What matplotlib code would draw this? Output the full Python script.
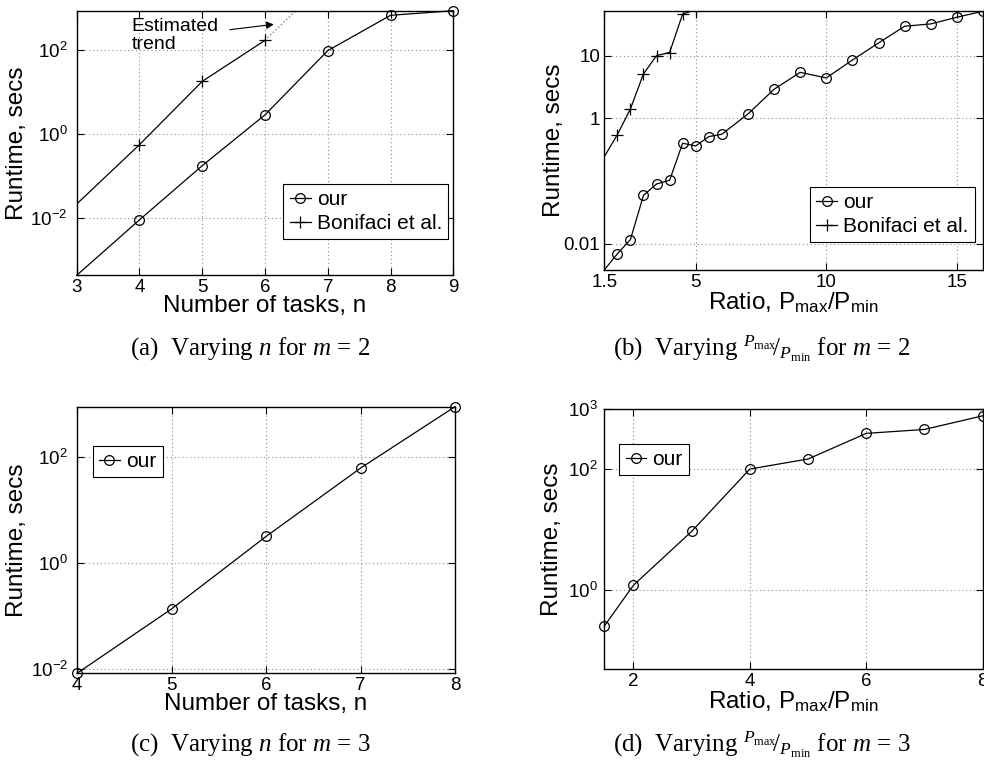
import matplotlib
matplotlib.use("Agg")
import matplotlib.pyplot as plt
from matplotlib.ticker import NullLocator

plt.rcParams['font.family'] = ['Liberation Sans', 'DejaVu Sans']
plt.rcParams['mathtext.fontset'] = 'custom'
plt.rcParams['mathtext.rm'] = 'Liberation Serif'
plt.rcParams['mathtext.it'] = 'Liberation Serif:italic'
plt.rcParams['mathtext.sf'] = 'Liberation Sans'
plt.rcParams['mathtext.bf'] = 'Liberation Serif:bold'

# =========================
# data
# =========================

# (a) m = 2, varying n
n_a = [3, 4, 5, 6, 7, 8, 9]
our_a = [4.2e-4, 0.0088, 0.172, 2.8, 95, 660, 850]
bon_n_a = [3, 4, 5, 6]
bon_a = [0.021, 0.545, 17.6, 167]
trend_n_a = [6, 7]
trend_a = [167, 4600]

# (b) m = 2, varying Pmax/Pmin
ratio_b = [1.5, 2, 2.5, 3, 3.5, 4, 4.5, 5, 5.5, 6, 7, 8, 9, 10, 11, 12, 13, 14, 15, 16]
our_b = [0.0038, 0.0069, 0.0116, 0.059, 0.0895, 0.1025, 0.40, 0.362, 0.51, 0.556,
         1.17, 2.9, 5.4, 4.4, 8.5, 15.9, 29.4, 32, 40.9, 51]
bon_ratio_b = [1.5, 2, 2.5, 3, 3.5, 4, 4.5, 5]
bon_b = [0.244, 0.548, 1.41, 5.1, 10, 11.2, 46, 54]

# (c) m = 3, varying n
n_c = [4, 5, 6, 7, 8]
our_c = [0.0084, 0.137, 3.19, 62, 893]

# (d) m = 3, varying Pmax/Pmin
ratio_d = [1.5, 2, 3, 4, 5, 6, 7, 8]
our_d = [0.25, 1.19, 9.3, 101, 148, 394, 458, 771]

log_ticks = [0.01, 1, 100]
log_labels = [r'$\mathdefault{10^{-2}}$', r'$\mathdefault{10^{0}}$', r'$\mathdefault{10^{2}}$']
ticks_b = [0.01, 1, 10]
labels_b = ['0.01', '1', '10']
xticks_b = [1.5, 5, 10, 15]
xlabels_b = ['1.5', '5', '10', '15']
ticks_d = [1, 100, 1000]
labels_d = [r'$\mathdefault{10^{0}}$', r'$\mathdefault{10^{2}}$', r'$\mathdefault{10^{3}}$']

label_n = 'Number of tasks, n'
label_ratio = r'Ratio, P$_{\mathsf{max}}$/P$_{\mathsf{min}}$'
label_y = 'Runtime, secs'
ratio_cap = r'${}^{P_{\rm max}}\!/_{P_{\rm min}}$'

W, H = 984, 769
LABEL_FS = 17.5
CAP_FS = 18
TICK_FS = 13.5


def make_axes(fig, left, right, top, bottom):
    return fig.add_axes([left / W, 1 - bottom / H, (right - left) / W, (bottom - top) / H])


def style(ax, ypad):
    ax.set_yscale('log')
    ax.yaxis.set_minor_locator(NullLocator())
    ax.xaxis.set_minor_locator(NullLocator())
    ax.grid(True, which='major', linestyle=(0, (1, 2.5)), color='0.55', lw=0.8)
    ax.tick_params(direction='in', top=True, right=True, length=5, width=0.8,
                   labelsize=TICK_FS, colors='k')
    ax.tick_params(axis='x', pad=3)
    ax.tick_params(axis='y', pad=ypad)
    for s in ax.spines.values():
        s.set_linewidth(1.0)
        s.set_color('k')


def add_legend(ax, loc, anchor):
    leg = ax.legend(loc=loc, bbox_to_anchor=anchor, fontsize=15, handlelength=1.0,
                    handletextpad=0.3, borderpad=0.3, labelspacing=0.25,
                    borderaxespad=0, fancybox=False, framealpha=1, numpoints=1)
    leg.get_frame().set_edgecolor('k')
    leg.get_frame().set_linewidth(0.8)


def caption(x, y, s):
    fig.text(x / W, 1 - y / H, s, family='Liberation Serif', fontsize=CAP_FS,
             ha='center', va='center')


fig = plt.figure(figsize=(W / 100, H / 100), dpi=100)

# =========================
# (a)
# =========================
ax = make_axes(fig, 76.7, 453.3, 10.7, 275.3)
style(ax, 6.5)
ax.plot(trend_n_a, trend_a, linestyle=':', color='0.5', lw=1)
ax.plot(n_a, our_a, color='k', lw=0.9, marker='o', markersize=7, mfc='none', mew=0.9,
        markevery=slice(1, None), clip_on=False, label='our')
ax.plot(bon_n_a, bon_a, color='k', lw=0.9, marker='+', markersize=8, mew=0.9,
        markevery=slice(1, None), label='Bonifaci et al.')
ax.set_xlim(3, 9)
ax.set_ylim(min(our_a), max(our_a))
ax.set_xticks(n_a)
ax.set_yticks(log_ticks)
ax.set_yticklabels(log_labels)
ax.set_xlabel(label_n, fontsize=LABEL_FS)
ax.set_ylabel(label_y, fontsize=LABEL_FS)
ax.xaxis.set_label_coords(0.5, -0.075)
ax.yaxis.set_label_coords(-0.129, 0.5)
ax.text(0.146, 0.972, 'Estimated\ntrend', transform=ax.transAxes, fontsize=14,
        ha='left', va='top', linespacing=1.1)
ax.annotate('', xy=(6.14, 402), xytext=(5.44, 300),
            arrowprops=dict(arrowstyle='-|>', color='k', lw=0.8, mutation_scale=11,
                            shrinkA=0, shrinkB=0))
add_legend(ax, 'lower right', (0.987, 0.136))
caption(250, 349, r'(a)  Varying $n$ for $m$ = 2')

# =========================
# (b)
# =========================
ax = make_axes(fig, 604.3, 983, 10.7, 270)
style(ax, 3)
ax.plot(ratio_b, our_b, color='k', lw=0.9, marker='o', markersize=7, mfc='none', mew=0.9,
        markevery=slice(1, None), label='our')
ax.plot(bon_ratio_b, bon_b, color='k', lw=0.9, marker='+', markersize=8, mew=0.9,
        markevery=slice(1, None), label='Bonifaci et al.')
ax.set_xlim(1.5, 16)
ax.set_ylim(0.0038, 52)
ax.set_xticks(xticks_b)
ax.set_xticklabels(xlabels_b)
ax.set_yticks(ticks_b)
ax.set_yticklabels(labels_b)
ax.set_xlabel(label_ratio, fontsize=LABEL_FS)
ax.set_ylabel(label_y, fontsize=LABEL_FS)
ax.xaxis.set_label_coords(0.5, -0.08)
ax.yaxis.set_label_coords(-0.104, 0.5)
add_legend(ax, 'lower right', (0.979, 0.107))
caption(762, 349, '(b)  Varying ' + ratio_cap + r' for $m$ = 2')

# =========================
# (c)
# =========================
ax = make_axes(fig, 77, 455, 406.7, 673.3)
style(ax, 6.5)
ax.plot(n_c, our_c, color='k', lw=0.9, marker='o', markersize=7, mfc='none', mew=0.9,
        clip_on=False, label='our')
ax.set_xlim(4, 8)
ax.set_ylim(min(our_c), max(our_c))
ax.set_xticks(n_c)
ax.set_yticks(log_ticks)
ax.set_yticklabels(log_labels)
ax.set_xlabel(label_n, fontsize=LABEL_FS)
ax.set_ylabel(label_y, fontsize=LABEL_FS)
ax.xaxis.set_label_coords(0.5, -0.075)
ax.yaxis.set_label_coords(-0.129, 0.5)
add_legend(ax, 'upper left', (0.0415, 0.8526))
caption(250, 745, r'(c)  Varying $n$ for $m$ = 3')

# =========================
# (d)
# =========================
ax = make_axes(fig, 604.3, 982.7, 409, 669.3)
style(ax, 5)
ax.plot(ratio_d, our_d, color='k', lw=0.9, marker='o', markersize=7, mfc='none', mew=0.9,
        clip_on=False, label='our')
ax.set_xlim(1.5, 8)
ax.set_ylim(0.048, 1000)
ax.set_xticks([2, 4, 6, 8])
ax.set_yticks(ticks_d)
ax.set_yticklabels(labels_d)
ax.set_xlabel(label_ratio, fontsize=LABEL_FS)
ax.set_ylabel(label_y, fontsize=LABEL_FS)
ax.xaxis.set_label_coords(0.5, -0.08)
ax.yaxis.set_label_coords(-0.108, 0.5)
add_legend(ax, 'upper left', (0.0396, 0.8667))
caption(762, 745, '(d)  Varying ' + ratio_cap + r' for $m$ = 3')

fig.savefig('out.png', dpi=100)
